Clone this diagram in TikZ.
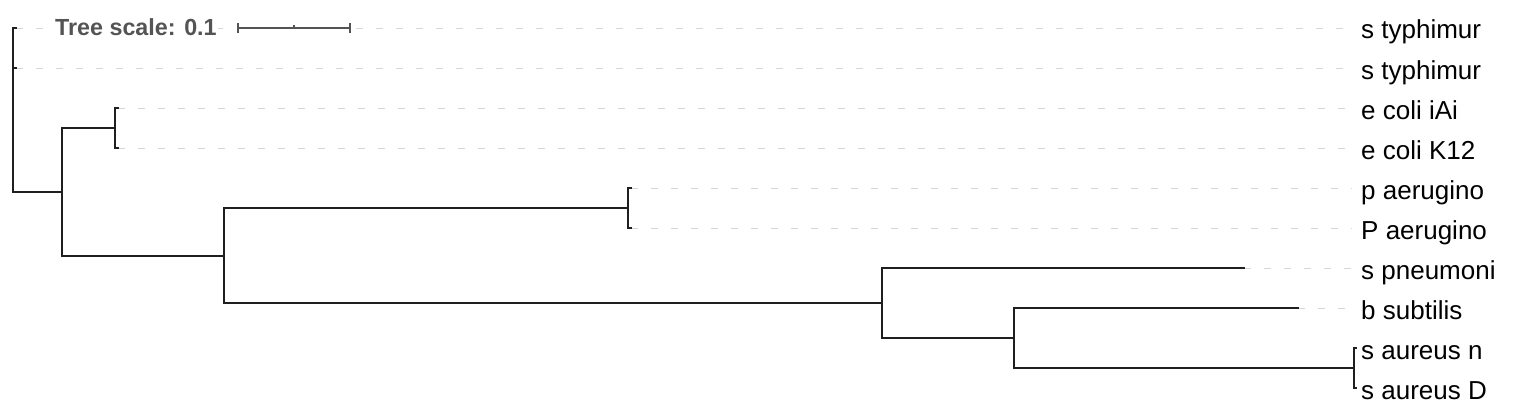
\documentclass[tikz,border=0pt]{standalone}
\usepackage{fontspec}
\setmainfont{Liberation Sans}
\begin{document}
\begin{tikzpicture}[x=1pt,y=-1pt,
  branch/.style={draw=black!88,line width=1.8pt,line cap=rect},
  guide/.style={draw=black!16,line width=1.2pt,dash pattern=on 6.7pt off 13.3pt},
  leaflabel/.style={anchor=base west,inner sep=0pt,font=\fontsize{26}{30}\selectfont,text=black},
  scalebar/.style={draw=black!67,line width=1.8pt}]
\useasboundingbox (0,0) rectangle (1526,420);
% internal nodes
\coordinate (root) at (13,192);
\coordinate (nA) at (62,192);
\coordinate (nE) at (115,128.3);
\coordinate (nB) at (224,255.8);
\coordinate (nP) at (628,208.3);
\coordinate (nC) at (882,303.3);
\coordinate (nD) at (1014,338.3);
\coordinate (nS) at (1354,368.3);
% leaf ends
\coordinate (l1) at (16,28.3);
\coordinate (l2) at (16,68.3);
\coordinate (l3) at (118,108.3);
\coordinate (l4) at (118,148.3);
\coordinate (l5) at (631,188.3);
\coordinate (l6) at (631,228.3);
\coordinate (l7) at (1244,268.3);
\coordinate (l8) at (1298,308.3);
\coordinate (l9) at (1356,348.3);
\coordinate (l10) at (1356,388.3);
% guide ends
\foreach \i/\y in {1/28.3,2/68.3,3/108.3,4/148.3,5/188.3,6/228.3,7/268.3,8/308.3}
  \coordinate (g\i) at (1352,\y);
\foreach \i in {1,...,8} \draw[guide] (l\i) -- (g\i);
% labels
\node[leaflabel] (t1) at (1361,39) {s typhimur};
\node[leaflabel] (t2) at (1361,79) {s typhimur};
\node[leaflabel] (t3) at (1361,119) {e coli iAi};
\node[leaflabel] (t4) at (1361,159) {e coli K12};
\node[leaflabel] (t5) at (1361,199) {p aerugino};
\node[leaflabel] (t6) at (1361,239) {P aerugino};
\node[leaflabel] (t7) at (1361,279) {s pneumoni};
\node[leaflabel] (t8) at (1361,319) {b subtilis};
\node[leaflabel] (t9) at (1361,359) {s aureus n};
\node[leaflabel] (t10) at (1361,399) {s aureus D};
% tree scale
\node[anchor=base west,inner sep=1pt,fill=white,text=black!67,font=\bfseries\fontsize{23.3}{27}\selectfont] (ts) at (54,35.7) {Tree scale: 0.1};
\coordinate (sb1) at (238.3,28.3);
\coordinate (sb2) at (350,28.3);
\coordinate (sbm) at (294,28.3);
\fill[white] (236,22) rectangle (352,35);
\draw[scalebar] (sb1) -- (sb2);
\draw[scalebar] ([yshift=-5pt]sb1) -- ([yshift=5pt]sb1);
\draw[scalebar] ([yshift=-5pt]sb2) -- ([yshift=5pt]sb2);
\draw[scalebar,line width=1.2pt] (sbm) -- ([yshift=3.5pt]sbm);
% branches
\draw[branch] (l1 -| root) -- (root);
\draw[branch] (l1 -| root) -- (l1);
\draw[branch] (l2 -| root) -- (l2);
\draw[branch] (root) -- (nA);
\draw[branch] (nE -| nA) -- (nB -| nA);
\draw[branch] (nE -| nA) -- (nE);
\draw[branch] (l3 -| nE) -- (l4 -| nE);
\draw[branch] (l3 -| nE) -- (l3);
\draw[branch] (l4 -| nE) -- (l4);
\draw[branch] (nB -| nA) -- (nB);
\draw[branch] (nP -| nB) -- (nC -| nB);
\draw[branch] (nP -| nB) -- (nP);
\draw[branch] (l5 -| nP) -- (l6 -| nP);
\draw[branch] (l5 -| nP) -- (l5);
\draw[branch] (l6 -| nP) -- (l6);
\draw[branch] (nC -| nB) -- (nC);
\draw[branch] (l7 -| nC) -- (nD -| nC);
\draw[branch] (l7 -| nC) -- (l7);
\draw[branch] (nD -| nC) -- (nD);
\draw[branch] (l8 -| nD) -- (nS -| nD);
\draw[branch] (l8 -| nD) -- (l8);
\draw[branch] (nS -| nD) -- (nS);
\draw[branch] (l9 -| nS) -- (l10 -| nS);
\draw[branch] (l9 -| nS) -- (l9);
\draw[branch] (l10 -| nS) -- (l10);
\end{tikzpicture}
\end{document}
